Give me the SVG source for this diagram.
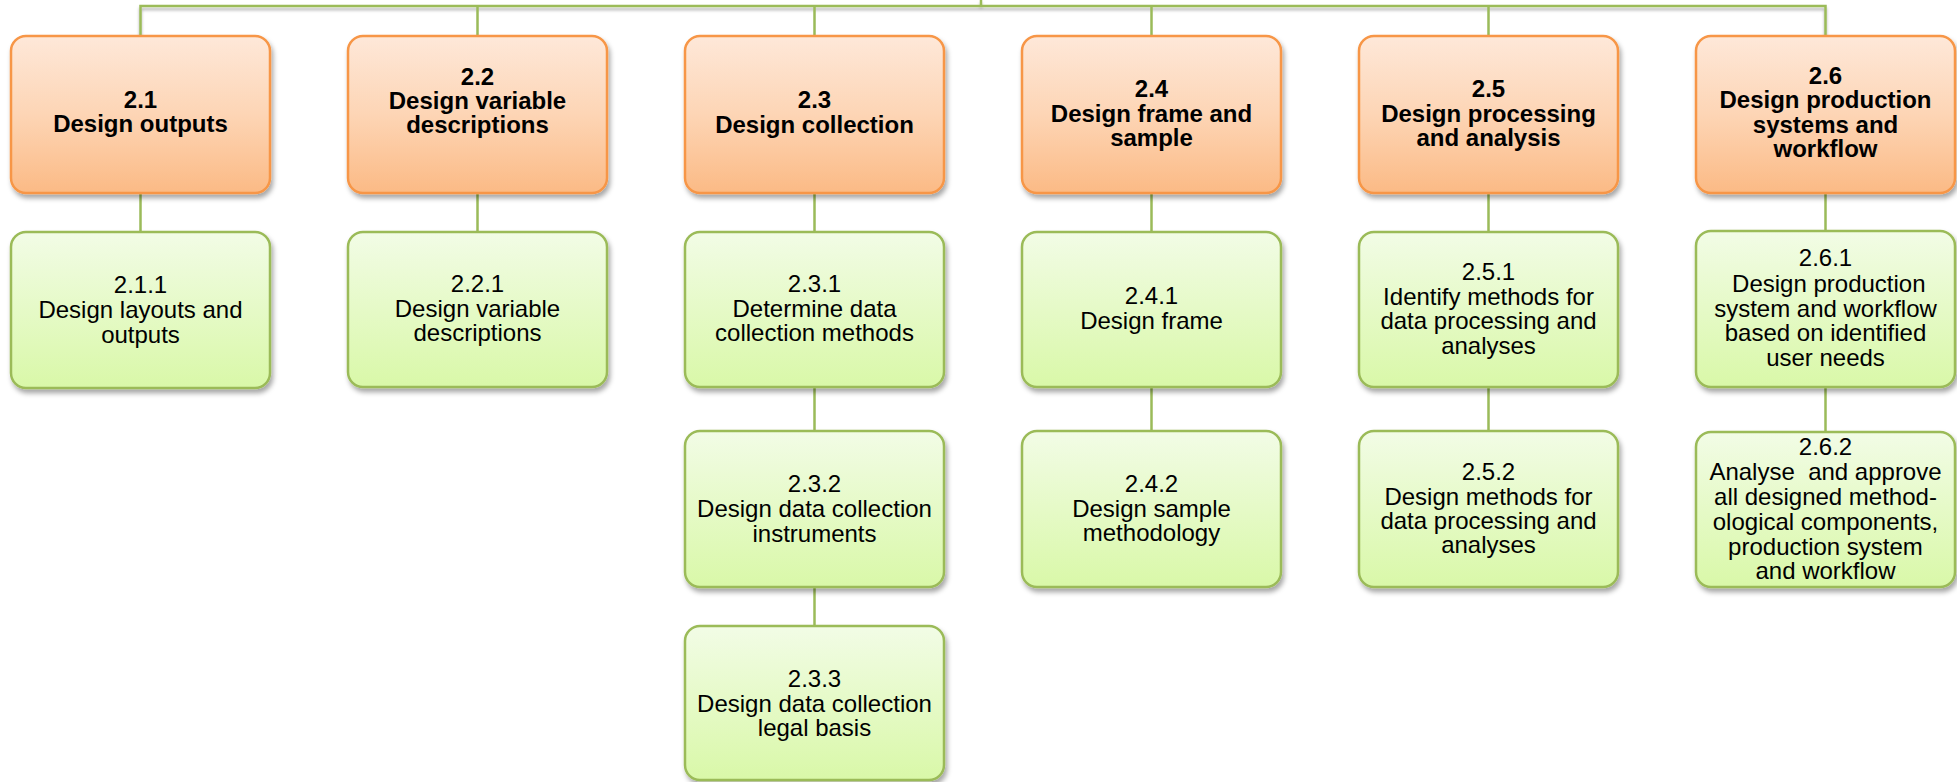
<svg xmlns="http://www.w3.org/2000/svg" width="1957" height="782" viewBox="0 0 1957 782">
<defs>
<linearGradient id="gOrange" x1="0" y1="0" x2="0" y2="1">
<stop offset="0" stop-color="#FEE8D9"/>
<stop offset="0.5" stop-color="#FDD5B5"/>
<stop offset="1" stop-color="#FBBA85"/>
</linearGradient>
<linearGradient id="gGreen" x1="0" y1="0" x2="0" y2="1">
<stop offset="0" stop-color="#F2FCE6"/>
<stop offset="1" stop-color="#D9F8A8"/>
</linearGradient>
<filter id="shadow" x="-10%" y="-10%" width="125%" height="130%">
<feDropShadow dx="2" dy="4" stdDeviation="2.5" flood-color="#000" flood-opacity="0.35"/>
</filter>
<filter id="lshadow" x="-5%" y="-200%" width="110%" height="600%">
<feDropShadow dx="0" dy="3" stdDeviation="1.5" flood-color="#000" flood-opacity="0.3"/>
</filter>
</defs>
<style>
.top rect{fill:url(#gOrange);stroke:#F79646;stroke-width:2.5;filter:url(#shadow)}
.sub rect{fill:url(#gGreen);stroke:#9BBB59;stroke-width:2.5;filter:url(#shadow)}
.top text{font-family:"Liberation Sans",Arial,sans-serif;font-weight:bold;font-size:24px;fill:#000;text-anchor:middle}
.sub text{font-family:"Liberation Sans",Arial,sans-serif;font-size:24px;fill:#000;text-anchor:middle}
.conn{fill:none;stroke:#9BBB59;stroke-width:2.5}
</style>
<rect width="1957" height="782" fill="#fff"/>
<g id="connectors">
<path class="conn" filter="url(#lshadow)" d="M140.5,36 V6 H1825.5 V36 M981,0 V6"/>
<path class="conn" d="M477.5,36 V6 M814.5,36 V6 M1151.5,36 V6 M1488.5,36 V6"/>
<path class="conn" d="M140.5,193 V232 M477.5,193 V232 M814.5,193 V232 M1151.5,193 V232 M1488.5,193 V232 M1825.5,193 V232"/>
<path class="conn" d="M814.5,387 V431 M1151.5,387 V431 M1488.5,387 V431 M1825.5,387 V432"/>
<path class="conn" d="M814.5,587 V626"/>
</g>
<g id="n2_1" class="top"><rect x="11" y="36" width="259" height="157" rx="15"/>
<text x="140.5" y="108">2.1</text><text x="140.5" y="132">Design outputs</text></g>
<g id="n2_2" class="top"><rect x="348" y="36" width="259" height="157" rx="15"/>
<text x="477.5" y="85">2.2</text><text x="477.5" y="109">Design variable</text><text x="477.5" y="133">descriptions</text></g>
<g id="n2_3" class="top"><rect x="685" y="36" width="259" height="157" rx="15"/>
<text x="814.5" y="108">2.3</text><text x="814.5" y="133">Design collection</text></g>
<g id="n2_4" class="top"><rect x="1022" y="36" width="259" height="157" rx="15"/>
<text x="1151.5" y="97">2.4</text><text x="1151.5" y="122">Design frame and</text><text x="1151.5" y="146">sample</text></g>
<g id="n2_5" class="top"><rect x="1359" y="36" width="259" height="157" rx="15"/>
<text x="1488.5" y="97">2.5</text><text x="1488.5" y="122">Design processing</text><text x="1488.5" y="146">and analysis</text></g>
<g id="n2_6" class="top"><rect x="1696" y="36" width="259" height="157" rx="15"/>
<text x="1825.5" y="84">2.6</text><text x="1825.5" y="108">Design production</text><text x="1825.5" y="133">systems and</text><text x="1825.5" y="157">workflow</text></g>
<g id="n2_1_1" class="sub"><rect x="11" y="232" width="259" height="156" rx="15"/>
<text x="140.5" y="293">2.1.1</text><text x="140.5" y="318">Design layouts and</text><text x="140.5" y="343">outputs</text></g>
<g id="n2_2_1" class="sub"><rect x="348" y="232" width="259" height="155" rx="15"/>
<text x="477.5" y="292">2.2.1</text><text x="477.5" y="317">Design variable</text><text x="477.5" y="341">descriptions</text></g>
<g id="n2_3_1" class="sub"><rect x="685" y="232" width="259" height="155" rx="15"/>
<text x="814.5" y="292">2.3.1</text><text x="814.5" y="317">Determine data</text><text x="814.5" y="341">collection methods</text></g>
<g id="n2_3_2" class="sub"><rect x="685" y="431" width="259" height="156" rx="15"/>
<text x="814.5" y="492">2.3.2</text><text x="814.5" y="517">Design data collection</text><text x="814.5" y="542">instruments</text></g>
<g id="n2_3_3" class="sub"><rect x="685" y="626" width="259" height="154" rx="15"/>
<text x="814.5" y="687">2.3.3</text><text x="814.5" y="712">Design data collection</text><text x="814.5" y="736">legal basis</text></g>
<g id="n2_4_1" class="sub"><rect x="1022" y="232" width="259" height="155" rx="15"/>
<text x="1151.5" y="304">2.4.1</text><text x="1151.5" y="329">Design frame</text></g>
<g id="n2_4_2" class="sub"><rect x="1022" y="431" width="259" height="156" rx="15"/>
<text x="1151.5" y="492">2.4.2</text><text x="1151.5" y="517">Design sample</text><text x="1151.5" y="541">methodology</text></g>
<g id="n2_5_1" class="sub"><rect x="1359" y="232" width="259" height="155" rx="15"/>
<text x="1488.5" y="280">2.5.1</text><text x="1488.5" y="305">Identify methods for</text><text x="1488.5" y="329">data processing and</text><text x="1488.5" y="354">analyses</text></g>
<g id="n2_5_2" class="sub"><rect x="1359" y="431" width="259" height="156" rx="15"/>
<text x="1488.5" y="480">2.5.2</text><text x="1488.5" y="505">Design methods for</text><text x="1488.5" y="529">data processing and</text><text x="1488.5" y="553">analyses</text></g>
<g id="n2_6_1" class="sub"><rect x="1696" y="231" width="259" height="156" rx="15"/>
<text x="1825.5" y="266">2.6.1</text><text x="1825.5" y="292" xml:space="preserve"> Design production</text><text x="1825.5" y="317">system and workflow</text><text x="1825.5" y="341">based on identified</text><text x="1825.5" y="366">user needs</text></g>
<g id="n2_6_2" class="sub"><rect x="1696" y="432" width="259" height="155" rx="15"/>
<text x="1825.5" y="455">2.6.2</text><text x="1825.5" y="480" xml:space="preserve">Analyse  and approve</text><text x="1825.5" y="505">all designed method-</text><text x="1825.5" y="530">ological components,</text><text x="1825.5" y="555">production system</text><text x="1825.5" y="579">and workflow</text></g>
</svg>
